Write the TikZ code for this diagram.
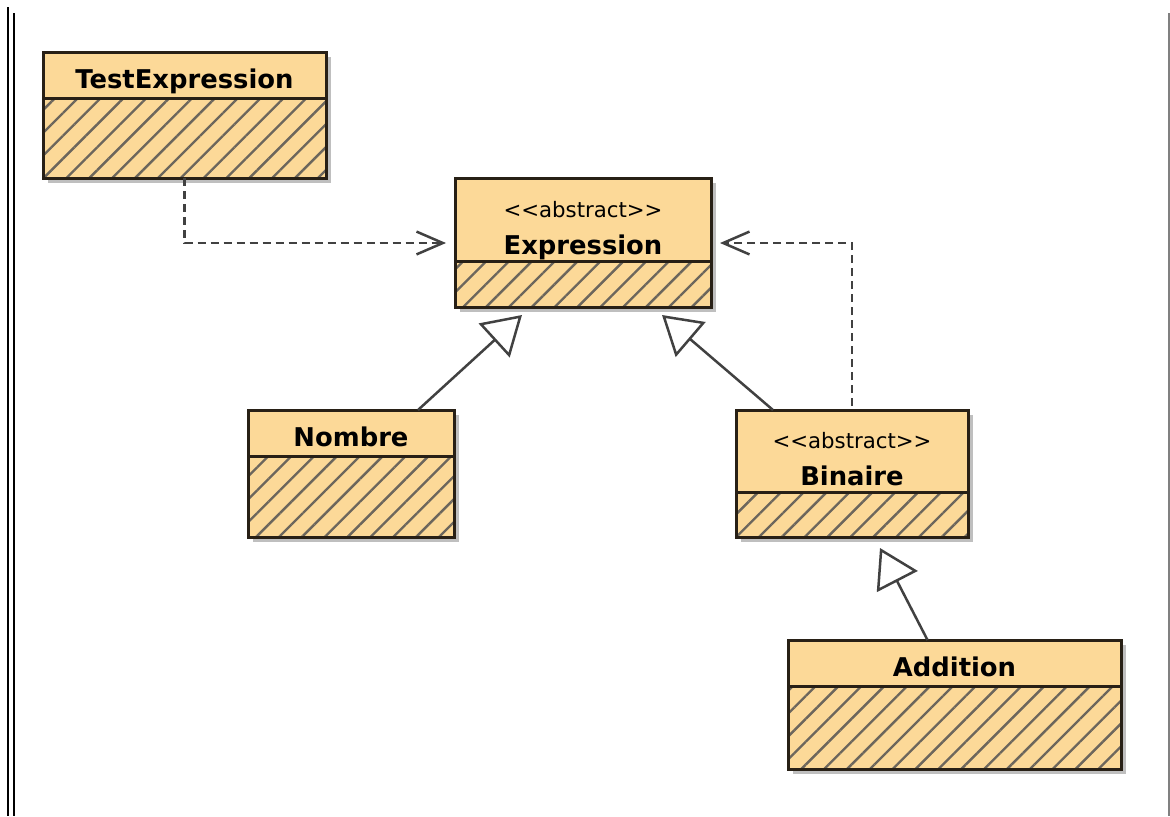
\documentclass[tikz,border=0pt]{standalone}
\usepackage{fontspec}
\setmainfont{DejaVu Sans}
\usetikzlibrary{positioning,arrows.meta,patterns.meta,shadows}

\newlength{\upx}\setlength{\upx}{0.02cm}
\definecolor{classfill}{RGB}{252,217,152}
\definecolor{classline}{RGB}{40,32,22}
\definecolor{hatchgray}{RGB}{108,102,92}
\definecolor{linkgray}{RGB}{65,65,65}
\newcommand{\stereo}[2][9pt]{{\fontsize{12.1}{14}\selectfont\mdseries\rule{0pt}{#1}#2}}

\tikzset{
  classshadow/.style={drop shadow={shadow xshift=5\upx,shadow yshift=-5\upx,fill=black!25,opacity=1}},
  classhead/.style={classshadow,draw=classline,line width=3\upx,fill=classfill,
    anchor=north west,outer sep=0pt,inner sep=0pt,align=center,
    font=\fontsize{14.7}{21}\selectfont\bfseries},
  onehead/.style={classhead,text height=15pt,text depth=0pt},
  classbody/.style={classshadow,draw=classline,line width=3\upx,
    preaction={fill=classfill},pattern={Lines[angle=45,distance=9.2pt,line width=1.35pt]},
    pattern color=hatchgray,outer sep=0pt,inner sep=0pt},
  dep/.style={draw=linkgray,line width=2.5\upx,dash pattern=on 8\upx off 5\upx,
    -{Straight Barb[length=15pt,width=13pt]}},
  inherit/.style={draw=linkgray,line width=2.5\upx,
    -{Triangle[length=21.5pt,width=26pt,fill=white]}}
}

\begin{document}
\begin{tikzpicture}[x=1\upx,y=-1\upx]
\useasboundingbox (0,0) rectangle (1170,816);

% frame
\draw[line width=2.2\upx] (8.3,7) -- (8.3,816);
\draw[line width=2.2\upx] (13.8,13) -- (13.8,816);
\draw[gray,line width=2\upx] (1169,13) -- (1169,816);

% classes
\node[onehead,minimum width=283\upx,minimum height=46\upx] (testH) at (43,52) {TestExpression};
\node[classbody,minimum width=283\upx,minimum height=80\upx,below=0pt of testH] (testB) {};

\node[classhead,minimum width=256\upx,minimum height=83\upx] (exprH) at (455,178)
  {\stereo[22pt]{<{}<abstract>{}>}\\Expression};
\node[classbody,minimum width=256\upx,minimum height=46\upx,below=0pt of exprH] (exprB) {};

\node[onehead,minimum width=206\upx,minimum height=46\upx] (nomH) at (248,410) {Nombre};
\node[classbody,minimum width=206\upx,minimum height=81\upx,below=0pt of nomH] (nomB) {};

\node[classhead,minimum width=232\upx,minimum height=82\upx] (binH) at (736,410)
  {\stereo[18pt]{<{}<abstract>{}>}\\Binaire};
\node[classbody,minimum width=232\upx,minimum height=45\upx,below=0pt of binH] (binB) {};

\node[onehead,minimum width=333\upx,minimum height=46\upx] (addH) at (788,640) {Addition};
\node[classbody,minimum width=333\upx,minimum height=83\upx,below=0pt of addH] (addB) {};

% dependencies
\coordinate (depL) at ([xshift=-9\upx,yshift=18\upx]exprH.south west);
\coordinate (depR) at ([xshift=9\upx,yshift=18\upx]exprH.south east);
\draw[dep] (testB.south) |- (depL);
\draw[dep] ([yshift=4\upx]binH.north) |- (depR);

% generalizations
\draw[inherit] ([xshift=67\upx]nomH.north) -- ([xshift=-61\upx,yshift=-8\upx]exprB.south);
\draw[inherit] ([xshift=-79\upx]binH.north) -- ([xshift=79\upx,yshift=-8\upx]exprB.south);
\draw[inherit] ([xshift=-27\upx]addH.north) -- ([xshift=28\upx,yshift=-11\upx]binB.south);

\end{tikzpicture}
\end{document}
